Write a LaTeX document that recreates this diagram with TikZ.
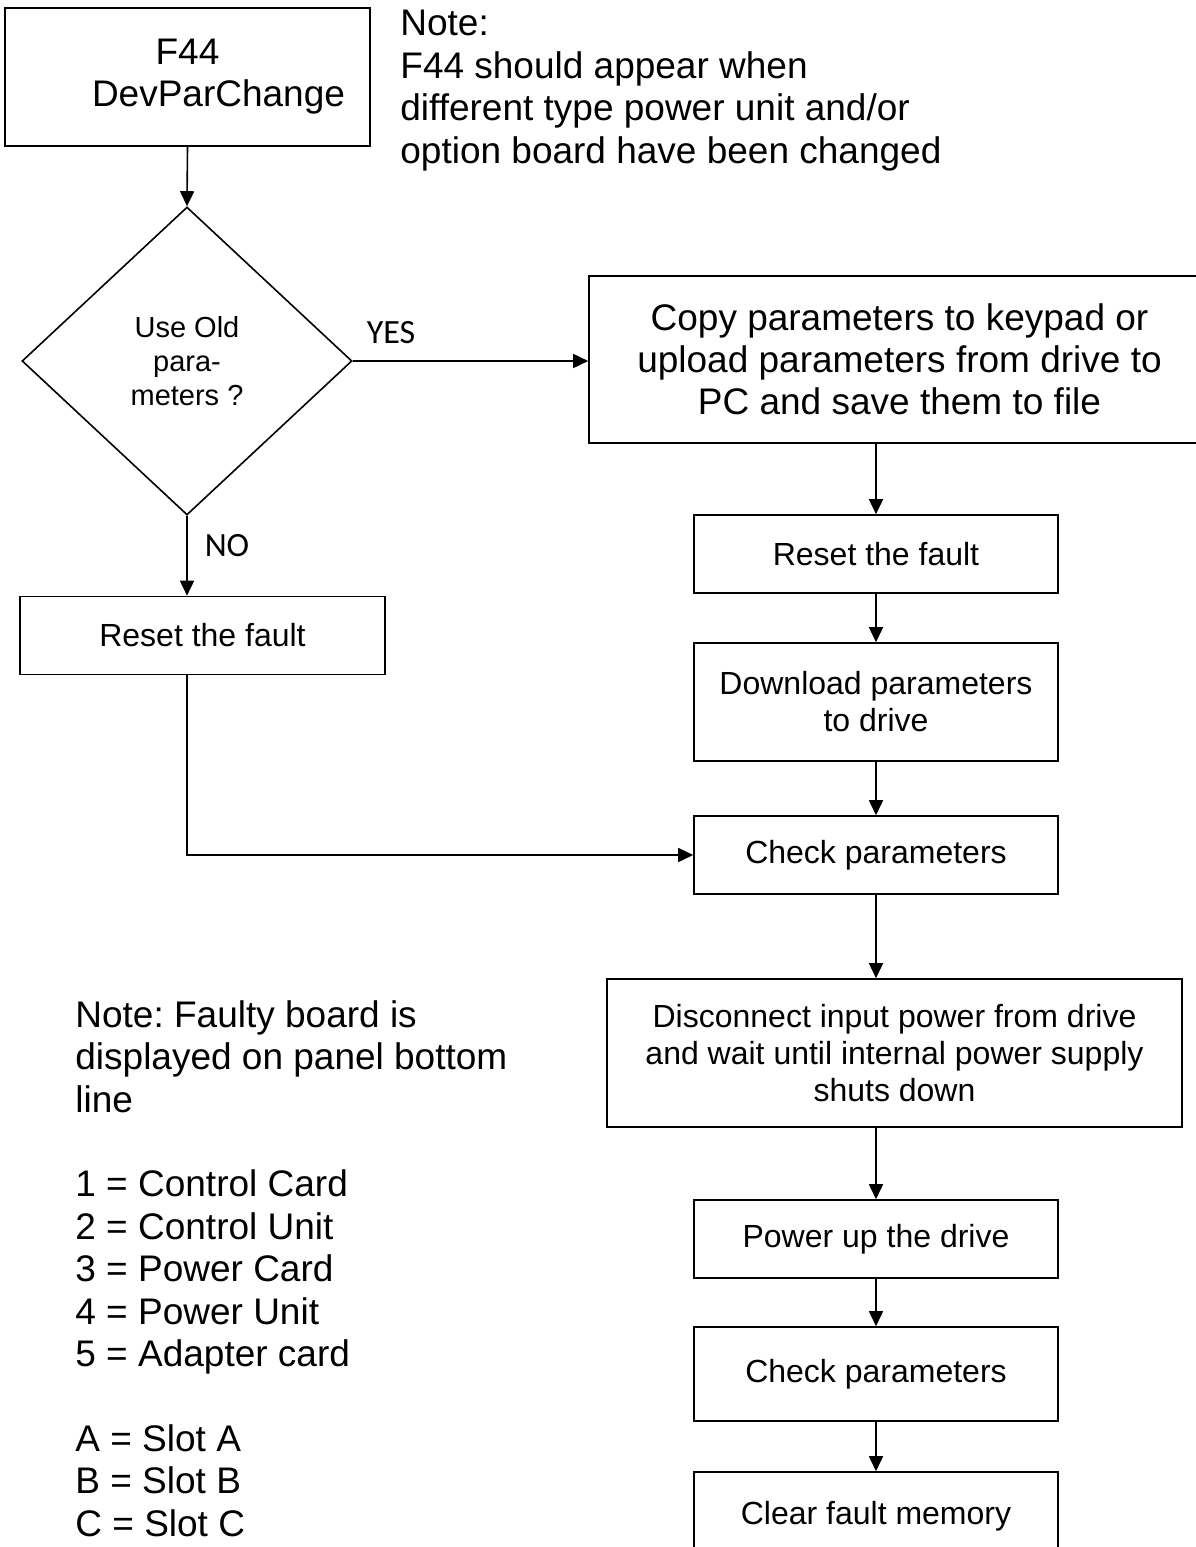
\documentclass[tikz,border=0pt]{standalone}
\usepackage{fontspec}
\setmainfont{Liberation Sans}
\newfontfamily\answerfont{Carlito}
\usetikzlibrary{shapes.geometric,arrows.meta}
\frenchspacing

\begin{document}
\begin{tikzpicture}[x=0.5pt,y=-0.5pt,
        procbox/.style={draw, line width=0.8pt, inner sep=0pt, align=center,
            minimum width=182pt, minimum height=39pt, font=\fontsize{16}{18.5}\selectfont},
        bigbox/.style={procbox, font=\fontsize{18.5}{21}\selectfont},
        decision/.style={draw, diamond, line width=0.8pt, inner sep=0pt, align=center,
            minimum width=165pt, minimum height=154pt, font=\fontsize{14.5}{17}\selectfont},
        notetext/.style={anchor=north west, inner sep=0pt, align=left,
            font=\fontsize{18.5}{21.2}\selectfont},
        answer/.style={inner sep=0pt, font=\answerfont\fontsize{17}{20}\selectfont},
        flow/.style={line width=0.8pt, -{Triangle[length=7.5pt,width=7pt]}}]
        \useasboundingbox (0,0) rectangle (1195,1547);

        \node[bigbox, minimum width=182.5pt, minimum height=69pt] (f44) at (187.5,77) {F44\\\hspace*{31pt}DevParChange};
        \node[decision] (decide) at (187,361) {Use Old\\para-\\meters ?};
        \node[answer] (yes) at (391,333) {YES};
        \node[answer] (no) at (227,546) {NO};
        \node[procbox, minimum width=182.5pt] (resetL) at (202.5,635.5) {Reset the fault};

        \node[bigbox, minimum width=310.5pt, minimum height=83.5pt] (copy) at (899.5,359.5) {Copy parameters to keypad or\\upload parameters from drive to\\PC and save them to file};
        \node[procbox] (resetR) at (876,554) {Reset the fault};
        \node[procbox, minimum height=59pt] (download) at (876,702) {Download parameters\\to drive};
        \node[procbox] (check) at (876,855) {Check parameters};
        \node[procbox, minimum width=287.5pt, minimum height=74pt] (disconnect) at (894.5,1053) {Disconnect input power from drive\\and wait until internal power supply\\shuts down};
        \node[procbox] (powerup) at (876,1239) {Power up the drive};
        \node[procbox, minimum height=47pt] (checkagain) at (876,1374) {Check parameters};
        \node[procbox, minimum height=44pt] (clear) at (876,1516) {Clear fault memory};

        \node[notetext] (topnote) at (400,10) {Note:\\F44 should appear when\\different type power unit and/or\\option board have been changed};
        \node[notetext] (boardnote) at (75,1000) {Note: Faulty board is\\displayed on panel bottom\\line\\[21.2pt]1 = Control Card\\2 = Control Unit\\3 = Power Card\\4 = Power Unit\\5 = Adapter card\\[21.2pt]A = Slot A\\B = Slot B\\C = Slot C};

        \draw[flow] (f44.south) -- (decide.north);
        \draw[flow] (decide.east) -- (decide.east -| copy.west);
        \draw[flow] (decide.south) -- (decide.south |- resetL.north);
        \draw[flow] (resetL.south -| decide.south) |- (check.west);
        \draw[flow] (resetR.north |- copy.south) -- (resetR.north);
        \draw[flow] (check.south) -- (check.south |- disconnect.north);
        \draw[flow] (powerup.north |- disconnect.south) -- (powerup.north);
        \foreach \a/\b in {resetR/download, download/check, powerup/checkagain, checkagain/clear}
            \draw[flow] (\a.south) -- (\b.north);
    \end{tikzpicture}
\end{document}
